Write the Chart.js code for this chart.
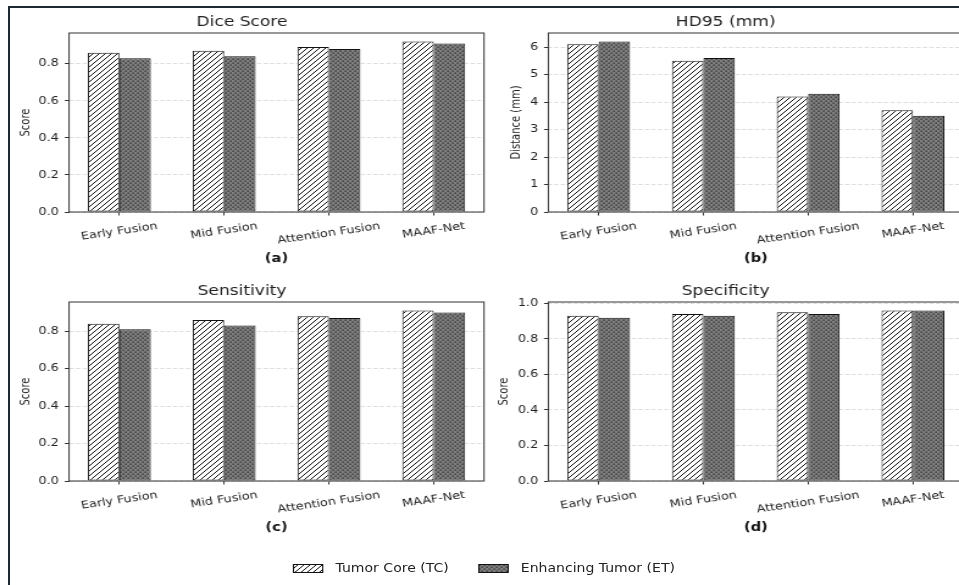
<!DOCTYPE html>
<html>
<head>
<meta charset="utf-8">
<title>Fusion comparison</title>
<script src="https://cdn.jsdelivr.net/npm/chart.js@4.4.1/dist/chart.umd.min.js"></script>
<style>
  html, body { margin: 0; padding: 0; background: #fff; }
  #page { position: relative; width: 959px; height: 585px; overflow: hidden; background: #fff; }
  /* the source figure is stretched sideways, so draw narrow and scale x */
  #fig { position: absolute; left: 0; top: 0; width: 786px; height: 585px; overflow: hidden;
         transform: scaleX(1.2201); transform-origin: 0 0; }
  #fig canvas.panel { position: absolute; }
  #frame { position: absolute; left: 8px; top: 6px; width: 1000px; height: 1000px;
           border-left: 2px solid #1e2933; border-top: 2px solid #1e2933; }
  #legend { position: absolute; left: 240px; top: 559px; height: 18px; display: flex; align-items: center;
            font: 11.5px "DejaVu Sans"; color: #222; white-space: nowrap; }
  #legend canvas { width: 25px; height: 9px; margin-right: 10px; }
  #legend span { margin-right: 24px; }
</style>
</head>
<body>
<div id="page">
  <div id="fig">
    <canvas class="panel" id="chartA" width="400" height="270" style="left:0;top:0"></canvas>
    <canvas class="panel" id="chartB" width="390" height="270" style="left:400px;top:0"></canvas>
    <canvas class="panel" id="chartC" width="400" height="270" style="left:0;top:269px"></canvas>
    <canvas class="panel" id="chartD" width="390" height="270" style="left:400px;top:269px"></canvas>
    <div id="legend">
      <canvas id="keyTC" width="25" height="9"></canvas><span>Tumor Core (TC)</span>
      <canvas id="keyET" width="25" height="9"></canvas><span>Enhancing Tumor (ET)</span>
    </div>
  </div>
  <div id="frame"></div>
</div>
<script>
// valores
const categories = ['Early Fusion', 'Mid Fusion', 'Attention Fusion', 'MAAF-Net'];
const seriesNames = ['Tumor Core (TC)', 'Enhancing Tumor (ET)'];

const diceTC = [0.86, 0.87, 0.89, 0.92];
const diceET = [0.83, 0.84, 0.88, 0.91];
const hd95TC = [6.1, 5.5, 4.2, 3.7];
const hd95ET = [6.2, 5.6, 4.3, 3.5];
const sensTC = [0.84, 0.86, 0.88, 0.91];
const sensET = [0.81, 0.83, 0.87, 0.90];
const specTC = [0.93, 0.94, 0.95, 0.96];
const specET = [0.92, 0.93, 0.94, 0.96];

const panelTitles = ['Dice Score', 'HD95 (mm)', 'Sensitivity', 'Specificity'];
const panelTags = ['(a)', '(b)', '(c)', '(d)'];
const yTitles = ['Score', 'Distance (mm)', 'Score', 'Score'];
const yStep = [0.2, 1, 0.2, 0.2];

// layout of each canvas (kept apart from the data)
const panels = [
  { id: 'chartA', tc: diceTC, et: diceET, axisW: 56.6, yTitlePad: 15.5, padRight: 3.3 },
  { id: 'chartB', tc: hd95TC, et: hd95ET, axisW: 49.4, yTitlePad: 17.8, padRight: 0.5 },
  { id: 'chartC', tc: sensTC, et: sensET, axisW: 56.6, yTitlePad: 15.5, padRight: 3.3 },
  { id: 'chartD', tc: specTC, et: specET, axisW: 49.4, yTitlePad: 7.3, padRight: 0.5 }
];

const FONT = 'DejaVu Sans';
Chart.defaults.font.family = FONT;
Chart.defaults.color = '#222';

function hatchPattern(ctx) {
    const n = 5;
    const c = document.createElement('canvas');
    c.width = n; c.height = n;
    const g = c.getContext('2d');
    g.fillStyle = '#fff';
    g.fillRect(0, 0, n, n);
    g.strokeStyle = '#111';
    g.lineWidth = 1;
    g.beginPath();
    g.moveTo(-1, n + 1); g.lineTo(n + 1, -1);
    g.moveTo(-1, 1); g.lineTo(1, -1);
    g.moveTo(n - 1, n + 1); g.lineTo(n + 1, n - 1);
    g.stroke();
    return ctx.createPattern(c, 'repeat');
}

function dotPattern(ctx) {
    const c = document.createElement('canvas');
    c.width = 4; c.height = 4;
    const g = c.getContext('2d');
    g.fillStyle = '#7e7e7e';
    g.fillRect(0, 0, 4, 4);
    g.fillStyle = '#2a2a2a';
    g.fillRect(0.5, 0.5, 1.3, 1.3);
    g.fillRect(2.5, 2.5, 1.3, 1.3);
    return ctx.createPattern(c, 'repeat');
}

// spines + x tick labels centred under the tick, rotated 10 degrees
const figurePlugin = {
    id: 'figure',
    afterDatasetsDraw(chart) {
        const { ctx, chartArea: a } = chart;
        ctx.save();
        ctx.strokeStyle = '#333';
        ctx.lineWidth = 1;
        ctx.strokeRect(a.left, a.top, a.right - a.left, a.bottom - a.top);
        ctx.restore();
    },
    afterDraw(chart) {
        const { ctx } = chart;
        const xs = chart.scales.x;
        const rot = 10 * Math.PI / 180;
        const size = 10.5;
        ctx.save();
        ctx.font = `${size}px "${FONT}"`;
        ctx.fillStyle = '#222';
        ctx.textAlign = 'center';
        ctx.textBaseline = 'middle';
        categories.forEach((name, k) => {
            const px = xs.getPixelForValue(k);
            const w = ctx.measureText(name).width;
            const h = size * 1.17;
            const boxH = w * Math.sin(rot) + h * Math.cos(rot);
            const cy = xs.top + 3.5 + 4.5 + boxH / 2;
            ctx.save();
            ctx.translate(px, cy);
            ctx.rotate(-rot);
            ctx.fillText(name, 0, 0);
            ctx.restore();
        });
        ctx.restore();
    }
};

function makeChart(p, i) {
    const ctx = document.getElementById(p.id).getContext('2d');
    const yMax = Math.max(...p.tc, ...p.et) * 1.05;
    const step = yStep[i];
    const barStyle = { borderColor: '#111', borderWidth: 1, borderSkipped: false, categoryPercentage: 0.6, barPercentage: 1 };
    return new Chart(ctx, {
        type: 'bar',
        data: {
            datasets: [
                { label: seriesNames[0], data: p.tc.map((v, k) => ({ x: k, y: v })), backgroundColor: hatchPattern(ctx), ...barStyle },
                { label: seriesNames[1], data: p.et.map((v, k) => ({ x: k, y: v })), backgroundColor: dotPattern(ctx), ...barStyle }
            ]
        },
        options: {
            responsive: false,
            animation: false,
            devicePixelRatio: 1,
            layout: { padding: { left: 0, right: p.padRight, top: 0, bottom: 0 } },
            plugins: {
                legend: { display: false },
                tooltip: { enabled: false },
                title: {
                    display: true,
                    text: panelTitles[i],
                    color: '#222',
                    font: { size: 14, weight: 'normal' },
                    padding: { top: 13.8, bottom: 2.4 }
                }
            },
            scales: {
                x: {
                    type: 'linear',
                    min: -0.48,
                    max: 3.48,
                    offset: false,
                    grid: { offset: false, drawOnChartArea: false, drawTicks: true, tickLength: 3.5, tickColor: '#333', tickWidth: 1 },
                    border: { display: false },
                    ticks: { display: false, stepSize: 1, includeBounds: false },
                    title: {
                        display: true,
                        text: panelTags[i],
                        color: '#111',
                        font: { size: 12, weight: 'bold' },
                        padding: { top: 0, bottom: 4 }
                    },
                    afterFit: s => { s.height = 58; }
                },
                y: {
                    min: 0,
                    max: yMax,
                    grid: { color: '#d6d6d6', lineWidth: 0.8, tickColor: '#333', tickLength: 3.5, tickWidth: 1, tickBorderDash: [] },
                    border: { display: false, dash: [3.5, 1.8] },
                    ticks: {
                        stepSize: step,
                        includeBounds: false,
                        padding: 4.8,
                        color: '#222',
                        font: { size: 10.5 },
                        callback: v => step < 1 ? v.toFixed(1) : String(v)
                    },
                    title: {
                        display: true,
                        text: yTitles[i],
                        color: '#222',
                        font: { size: 10 },
                        padding: { top: p.yTitlePad, bottom: 0 }
                    },
                    afterFit: s => { s.width = p.axisW; }
                }
            }
        },
        plugins: [figurePlugin]
    });
}

panels.forEach(makeChart);

// legend keys
function drawKey(id, patternFn) {
    const c = document.getElementById(id);
    const g = c.getContext('2d');
    g.fillStyle = patternFn(g);
    g.fillRect(0, 0, c.width, c.height);
    g.strokeStyle = '#111';
    g.lineWidth = 1;
    g.strokeRect(0.5, 0.5, c.width - 1, c.height - 1);
}
drawKey('keyTC', hatchPattern);
drawKey('keyET', dotPattern);
</script>
</body>
</html>
